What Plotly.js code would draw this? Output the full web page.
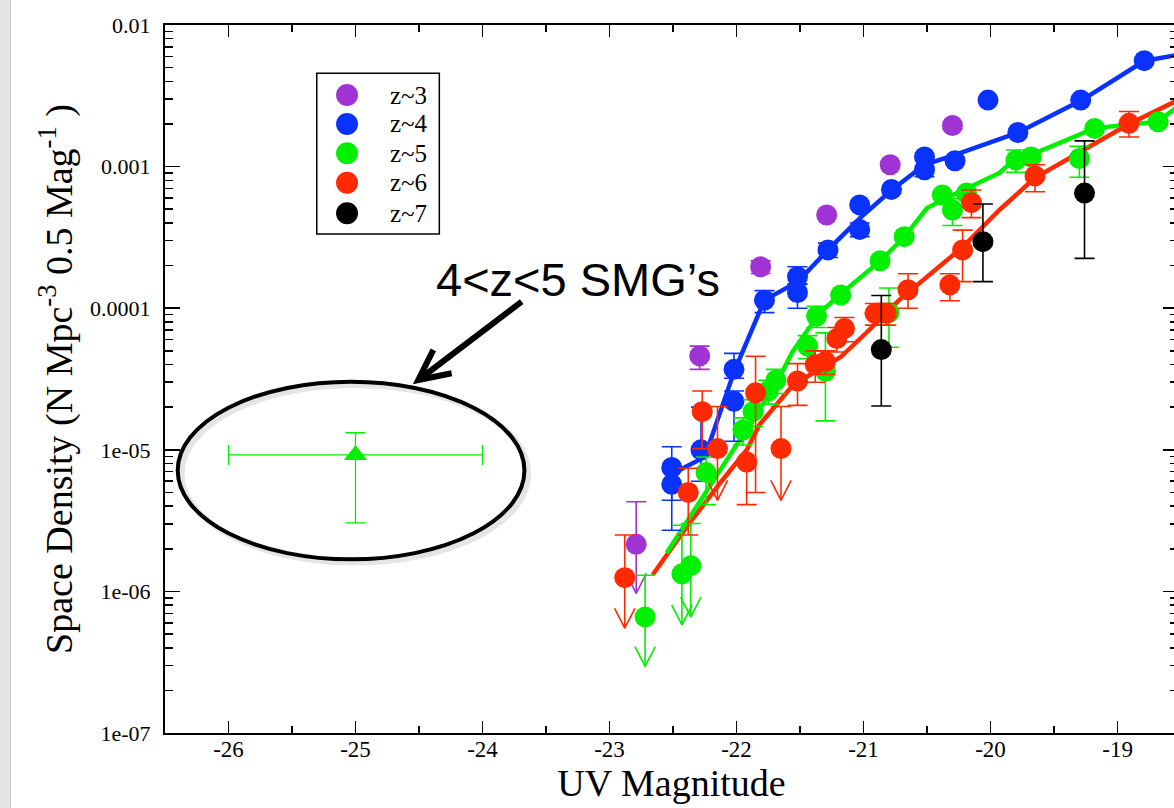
<!DOCTYPE html>
<html><head><meta charset="utf-8">
<script src="https://cdn.plot.ly/plotly-3.0.1.min.js"></script>
<style>
html,body{margin:0;padding:0;overflow:hidden;background:#fff}
#chart{position:absolute;left:0;top:0;width:1178px;height:808px}
#strip{position:absolute;left:0;top:0;width:10px;height:808px;background:#e4e4e4;border-right:1px solid #c8c8c8;z-index:5}
</style></head><body>
<div id="chart"></div><div id="strip"></div>
<script>
// ---------- data ----------
const seriesNames = ['z~3','z~4','z~5','z~6','z~7'];
const seriesColors = ['#a033d4','#0a32ff','#00f000','#ff2a00','#000000'];

// z~3
const z3X = [-22.79, -22.29, -21.81, -21.29, -20.79, -20.30];
const z3Y = [2.15e-6, 4.6e-5, 1.96e-4, 4.55e-4, 1.03e-3, 1.95e-3];
const z3Up = [2.15e-6, 0.8e-5, 0.2e-4, 0, 0, 0.1e-3];
const z3Dn = [0, 0.9e-5, 0.2e-4, 0, 0, 0.1e-3];
const z3LimX = [-22.79], z3LimY = [2.15e-6], z3LimTip = [9.7e-7];

// z~4
const z4X = [-22.51, -22.51, -22.28, -22.02, -22.02, -21.78, -21.52, -21.52, -21.28, -21.03, -21.03, -20.78, -20.52, -20.52, -20.28, -20.02, -19.785, -19.29, -18.79];
const z4Y = [7.5e-6, 5.7e-6, 1.0e-5, 3.7e-5, 2.2e-5, 1.14e-4, 1.67e-4, 1.29e-4, 2.58e-4, 5.36e-4, 3.6e-4, 6.9e-4, 1.17e-3, 9.5e-4, 1.10e-3, 2.95e-3, 1.74e-3, 2.95e-3, 5.6e-3];
const z4Up = [3.0e-6, 1.5e-6, 1.0e-5, 1.1e-5, 0.4e-5, 1.9e-5, 2.9e-5, 0.2e-4, 0.3e-4, 0, 0.4e-4, 0, 0, 0, 0, 0, 0, 0, 0];
const z4Dn = [3.1e-6, 3.0e-6, 4e-6, 0.5e-5, 1.05e-5, 2.1e-5, 0.2e-4, 2.9e-5, 0.3e-4, 0, 0.4e-4, 0, 0, 0.1e-3, 0, 0, 0, 0, 0];
const z4LineX = [-22.51, -22.25, -22.02, -21.78, -21.52, -21.28, -21.02, -20.78, -20.52, -20.28, -19.79, -19.28, -18.79, -18.55];
const z4LineY = [6.75e-6, 8.9e-6, 3.54e-5, 1.14e-4, 1.53e-4, 2.58e-4, 4.4e-4, 6.8e-4, 1.03e-3, 1.21e-3, 1.73e-3, 2.95e-3, 5.57e-3, 6.1e-3];

// z~5
const z5X = [-22.72, -22.43, -22.36, -22.24, -21.95, -21.87, -21.75, -21.69, -21.44, -21.37, -21.30, -21.18, -20.87, -20.80, -20.68, -20.38, -20.30, -20.19, -19.80, -19.68, -19.30, -19.18, -18.68];
const z5Y = [6.6e-7, 1.33e-6, 1.52e-6, 6.9e-6, 1.38e-5, 1.86e-5, 2.6e-5, 3.1e-5, 5.4e-5, 8.8e-5, 3.6e-5, 1.24e-4, 2.16e-4, 9.3e-5, 3.2e-4, 6.3e-4, 4.94e-4, 6.5e-4, 1.11e-3, 1.17e-3, 1.14e-3, 1.86e-3, 2.07e-3];
const z5Up = [6.4e-7, 1.6e-6, 1.5e-6, 2e-6, 0.3e-5, 0.4e-5, 0.5e-5, 0.6e-5, 1.0e-5, 1.5e-5, 3.1e-5, 0, 0, 4.6e-5, 0, 0, 1e-4, 0, 2e-4, 0, 2.5e-4, 0, 0];
const z5Dn = [0, 0, 0, 2.8e-6, 0.3e-5, 0.4e-5, 0.5e-5, 0.6e-5, 1.0e-5, 1.5e-5, 2.0e-5, 0, 0, 4.0e-5, 0, 0, 1.1e-4, 0, 2e-4, 0, 3.0e-4, 0, 0];
const z5LimX = [-22.72, -22.43, -22.36], z5LimY = [6.6e-7, 1.33e-6, 1.52e-6], z5LimTip = [2.95e-7, 5.8e-7, 6.6e-7];
const z5LineX = [-22.55, -21.93, -21.685, -21.56, -21.44, -21.32, -21.17, -20.87, -20.68, -20.50, -20.38, -19.93, -19.80, -19.68, -19.18, -18.69, -18.54];
const z5LineY = [1.87e-6, 1.38e-5, 2.96e-5, 4.91e-5, 7.02e-5, 9.71e-5, 1.28e-4, 2.15e-4, 3.18e-4, 5.1e-4, 5.81e-4, 9.02e-4, 1.15e-3, 1.21e-3, 1.87e-3, 2.07e-3, 2.59e-3];

// z~6
const z6X = [-22.88, -22.38, -22.27, -22.15, -21.92, -21.85, -21.65, -21.52, -21.38, -21.30, -21.21, -21.15, -20.91, -20.82, -20.65, -20.32, -20.22, -20.15, -19.65, -18.91];
const z6Y = [1.25e-6, 5.0e-6, 1.86e-5, 1.02e-5, 8.2e-6, 2.53e-5, 1.02e-5, 3.06e-5, 4.0e-5, 4.2e-5, 6.1e-5, 7.2e-5, 9.2e-5, 9.2e-5, 1.35e-4, 1.46e-4, 2.58e-4, 5.56e-4, 8.6e-4, 2.02e-3];
const z6Up = [1.25e-6, 2.4e-6, 0.74e-5, 1.0e-5, 0, 2.05e-5, 1.0e-5, 1.0e-5, 1.0e-5, 0.8e-5, 1.2e-5, 1.4e-5, 1.6e-5, 1.6e-5, 0.4e-4, 0.29e-4, 0.98e-4, 1.28e-4, 1.7e-4, 0.43e-3];
const z6Dn = [0, 2.5e-6, 0.84e-5, 0, 4.1e-6, 2.03e-5, 0, 1.0e-5, 1.0e-5, 0.8e-5, 1.2e-5, 1.4e-5, 1.6e-5, 1.6e-5, 0.35e-4, 0.33e-4, 1.04e-4, 1.2e-4, 1.95e-4, 0.4e-3];
const z6LimX = [-22.88, -22.15, -21.65], z6LimY = [1.25e-6, 1.02e-5, 1.02e-5], z6LimTip = [5.5e-7, 4.4e-6, 4.4e-6];
const z6LineX = [-22.66, -22.37, -22.11, -21.92, -21.82, -21.72, -21.56, -21.45, -21.28, -21.18, -20.98, -20.72, -20.22, -19.93, -19.65, -18.91, -18.54];
const z6LineY = [1.31e-6, 3.04e-6, 6.12e-6, 9.97e-6, 1.5e-5, 1.91e-5, 2.83e-5, 3.27e-5, 4.04e-5, 4.52e-5, 6.68e-5, 1.14e-4, 2.7e-4, 4.94e-4, 8.32e-4, 2.0e-3, 2.9e-3];

// z~7
const z7X = [-20.86, -20.06, -19.26];
const z7Y = [5.1e-5, 2.95e-4, 6.5e-4];
const z7Up = [7.2e-5, 2.5e-4, 8.7e-4];
const z7Dn = [3.06e-5, 1.41e-4, 4.25e-4];

// 4<z<5 SMGs
const smgX = [-25.0], smgY = [9.2e-6], smgErrX = [1.0], smgUp = [0.4e-5], smgDn = [6.15e-6];

// axis ticks
const xTickVals = [-26, -25, -24, -23, -22, -21, -20, -19];
const xTickText = ['-26', '-25', '-24', '-23', '-22', '-21', '-20', '-19'];
const yTickVals = [1e-7, 1e-6, 1e-5, 1e-4, 1e-3, 1e-2];
const yTickText = ['1e-07', '1e-06', '1e-05', '0.0001', '0.001', '0.01'];

// ---------- plotting ----------
const FONT = 'Liberation Serif, Times New Roman, serif';
const traces = [];
function lineTrace(x, y, c){ return {x, y, type:'scatter', mode:'lines', line:{color:c, width:4.5}, hoverinfo:'skip', showlegend:false}; }
function ptsTrace(x, y, up, dn, c, name){
  return {x, y, name, type:'scatter', mode:'markers', marker:{color:c, size:21, line:{width:0}},
    error_y:{type:'data', symmetric:false, array:up, arrayminus:dn, color:c, thickness:1.6, width:10}};
}
function arrowTrace(xs, ys, tips, c){
  const dx = 0.08, h = Math.pow(10, 0.14);
  const X = [], Y = [];
  for (let i = 0; i < xs.length; i++){
    X.push(xs[i], xs[i], null, xs[i]-dx, xs[i], xs[i]+dx, null);
    Y.push(ys[i], tips[i], null, tips[i]*h, tips[i], tips[i]*h, null);
  }
  return {x:X, y:Y, type:'scatter', mode:'lines', line:{color:c, width:1.6}, hoverinfo:'skip', showlegend:false, connectgaps:false};
}
traces.push(lineTrace(z6LineX, z6LineY, seriesColors[3]));
traces.push(lineTrace(z5LineX, z5LineY, seriesColors[2]));
traces.push(lineTrace(z4LineX, z4LineY, seriesColors[1]));
traces.push(arrowTrace(z3LimX, z3LimY, z3LimTip, seriesColors[0]));
traces.push(arrowTrace(z5LimX, z5LimY, z5LimTip, seriesColors[2]));
traces.push(arrowTrace(z6LimX, z6LimY, z6LimTip, seriesColors[3]));
traces.push(ptsTrace(z3X, z3Y, z3Up, z3Dn, seriesColors[0], seriesNames[0]));
traces.push(ptsTrace(z4X, z4Y, z4Up, z4Dn, seriesColors[1], seriesNames[1]));
traces.push(ptsTrace(z5X, z5Y, z5Up, z5Dn, seriesColors[2], seriesNames[2]));
traces.push(ptsTrace(z6X, z6Y, z6Up, z6Dn, seriesColors[3], seriesNames[3]));
traces.push(ptsTrace(z7X, z7Y, z7Up, z7Dn, seriesColors[4], seriesNames[4]));
traces.push({x:smgX, y:smgY, name:'4<z<5 SMGs', type:'scatter', mode:'markers',
  marker:{symbol:'triangle-up', size:20, color:seriesColors[2]},
  error_x:{type:'data', array:smgErrX, color:seriesColors[2], thickness:1.3, width:10},
  error_y:{type:'data', symmetric:false, array:smgUp, arrayminus:smgDn, color:seriesColors[2], thickness:1.3, width:10},
  showlegend:false});

// manual legend (paper coordinates)
const legRowsY = [0.9011, 0.8602, 0.8188, 0.7773, 0.7340];
const shapes = [
  {type:'rect', xref:'paper', yref:'paper', x0:0.1498, x1:0.2708, y0:0.7048, y1:0.9318, line:{color:'#000', width:1.5}, fillcolor:'rgba(0,0,0,0)'},
  // ellipse shadow + ellipse around the SMG point
  {type:'circle', xref:'x', yref:'paper', x0:-26.37, x1:-23.64, y0:0.2408, y1:0.4917, line:{color:'rgba(0,0,0,0.10)', width:6}},
  {type:'circle', xref:'x', yref:'paper', x0:-26.40, x1:-23.67, y0:0.2453, y1:0.4962, line:{color:'#000', width:4}},
  // pointer arrow: shaft and open head
  {type:'line', xref:'paper', yref:'paper', x0:0.3521, y0:0.6092, x1:0.2515, y1:0.5000, line:{color:'#000', width:6}},
  {type:'path', xref:'paper', yref:'paper', path:'M 0.2649 0.5410 L 0.2500 0.4986 L 0.2830 0.5081', line:{color:'#000', width:6}}
];
const annotations = [];
seriesNames.forEach((n, i) => {
  shapes.push({type:'circle', xref:'paper', yref:'paper', xsizemode:'pixel', ysizemode:'pixel',
    xanchor:0.1797, yanchor:legRowsY[i], x0:-11, x1:11, y0:-11, y1:11,
    fillcolor:seriesColors[i], line:{width:0}});
  annotations.push({xref:'paper', yref:'paper', x:0.2201, y:legRowsY[i], xanchor:'left', yanchor:'middle',
    text:n, showarrow:false, font:{family:FONT, size:25, color:'#000'}});
});
annotations.push({xref:'paper', yref:'paper', x:0.4077, y:0.6412, xanchor:'center', yanchor:'middle',
  text:'4&lt;z&lt;5 SMG’s', showarrow:false, font:{family:'Liberation Sans, Arial, sans-serif', size:47, color:'#000'}});

const layout = {
  width:1178, height:808,
  margin:{l:165, r:0, t:25, b:75},
  paper_bgcolor:'#fff', plot_bgcolor:'#fff',
  showlegend:false,
  font:{family:FONT, color:'#000'},
  xaxis:{range:[-26.5, -18.524], tickmode:'array', tickvals:xTickVals, ticktext:xTickText,
    ticks:'inside', ticklen:12, tickwidth:1.5, tickcolor:'#000',
    showline:true, linewidth:2, linecolor:'#000', mirror:'ticks', showgrid:false, zeroline:false,
    tickfont:{family:FONT, size:23}, ticklabelstandoff:-6,
    minor:{dtick:0.5, tick0:0, ticks:'inside', ticklen:7, tickwidth:1.5, tickcolor:'#000', showgrid:false},
    title:{text:'UV Magnitude', font:{family:FONT, size:38}, standoff:2}},
  yaxis:{type:'log', range:[-7, -2], tickmode:'array', tickvals:yTickVals, ticktext:yTickText,
    ticks:'inside', ticklen:15, tickwidth:1.5, tickcolor:'#000',
    showline:true, linewidth:2, linecolor:'#000', mirror:'ticks', showgrid:false, zeroline:false,
    tickfont:{family:FONT, size:22}, ticklabelstandoff:8,
    minor:{dtick:'D1', ticks:'inside', ticklen:8, tickwidth:1.5, tickcolor:'#000', showgrid:false},
    title:{text:'Space Density (N Mpc<sup>-3</sup> 0.5 Mag<sup>-1</sup> )', font:{family:FONT, size:38}, standoff:6}},
  shapes, annotations
};
Plotly.newPlot('chart', traces, layout, {staticPlot:true, displayModeBar:false});
</script>
</body></html>
